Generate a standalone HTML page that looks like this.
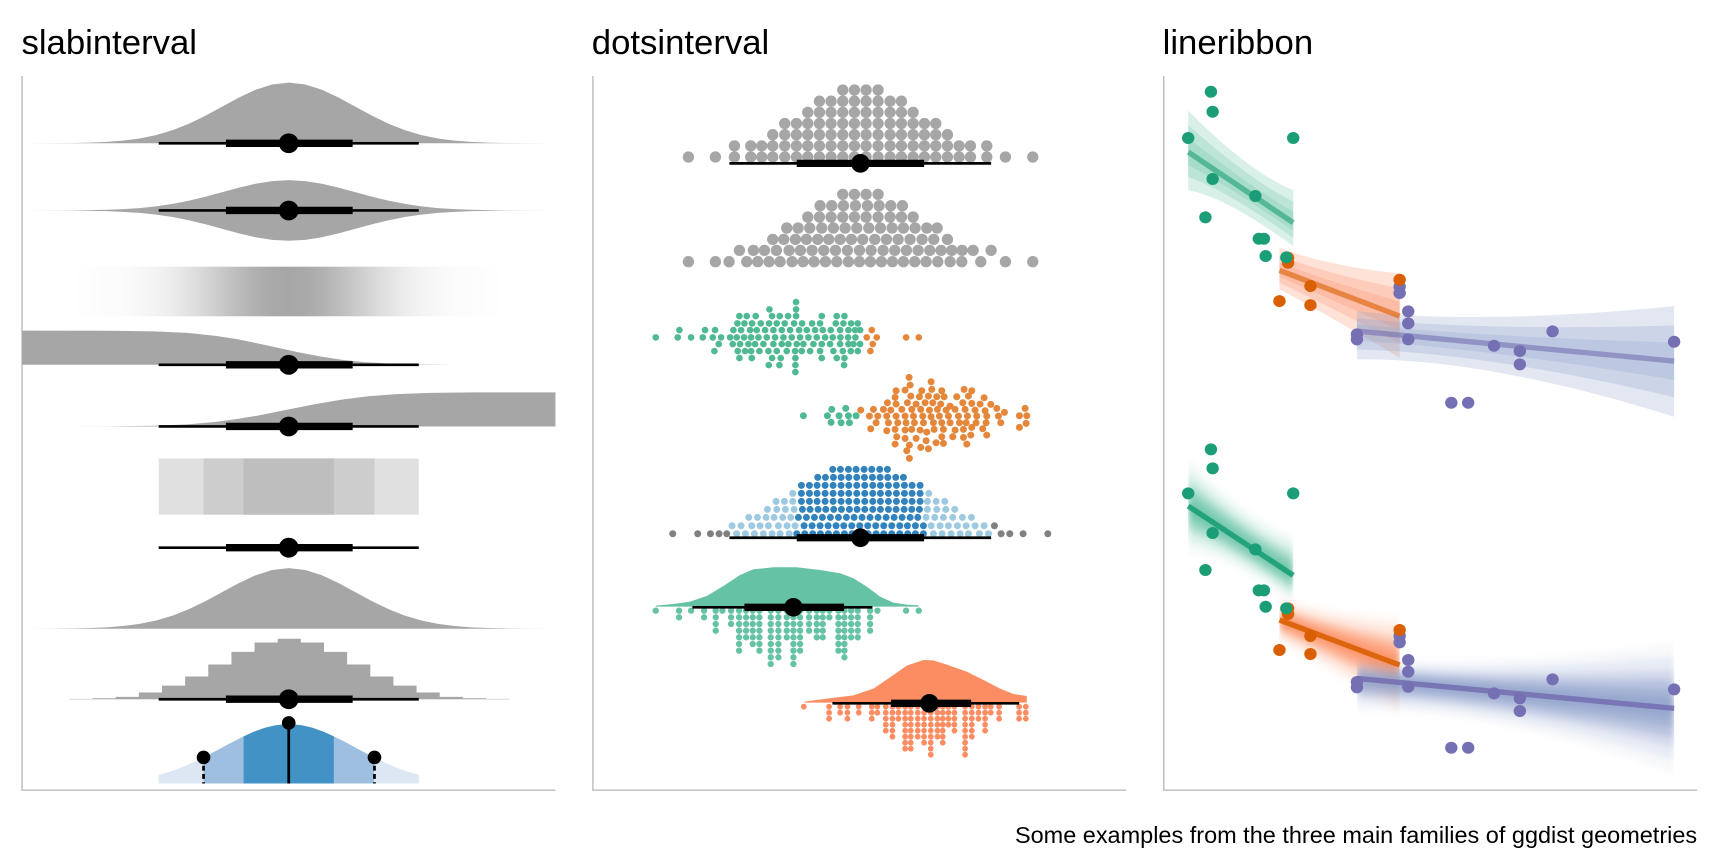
<!DOCTYPE html>
<html><head><meta charset="utf-8"><style>html,body{margin:0;padding:0;background:#fff;}svg{display:block;}</style></head>
<body>
<svg xmlns="http://www.w3.org/2000/svg" width="1728" height="864" viewBox="0 0 1568 784">
<rect width="1568" height="784" fill="#fff"/>
<defs>
<path id="bell" d="M-240.8,0 L-240.8,-0.02 L-210.7,-0.12 L-195.65,-0.28 L-180.6,-0.61 L-165.55,-1.25 L-150.5,-2.41 L-135.45,-4.38 L-120.4,-7.44 L-105.35,-11.9 L-90.3,-17.86 L-75.25,-25.18 L-60.2,-33.36 L-45.15,-41.51 L-30.1,-48.54 L-15.05,-53.31 L0,-55 L15.05,-53.31 L30.1,-48.54 L45.15,-41.51 L60.2,-33.36 L75.25,-25.18 L90.3,-17.86 L105.35,-11.9 L120.4,-7.44 L135.45,-4.38 L150.5,-2.41 L165.55,-1.25 L180.6,-0.61 L195.65,-0.28 L210.7,-0.12 L240.8,-0.02 L240.8,0 Z"/>
<linearGradient id="gr" gradientUnits="userSpaceOnUse" x1="70" y1="0" x2="453" y2="0">
<stop offset="0" stop-color="#a6a6a6" stop-opacity="0.006"/>
<stop offset="0.107" stop-color="#a6a6a6" stop-opacity="0.044"/>
<stop offset="0.186" stop-color="#a6a6a6" stop-opacity="0.135"/>
<stop offset="0.225" stop-color="#a6a6a6" stop-opacity="0.216"/>
<stop offset="0.264" stop-color="#a6a6a6" stop-opacity="0.325"/>
<stop offset="0.303" stop-color="#a6a6a6" stop-opacity="0.458"/>
<stop offset="0.343" stop-color="#a6a6a6" stop-opacity="0.607"/>
<stop offset="0.382" stop-color="#a6a6a6" stop-opacity="0.755"/>
<stop offset="0.421" stop-color="#a6a6a6" stop-opacity="0.882"/>
<stop offset="0.461" stop-color="#a6a6a6" stop-opacity="0.969"/>
<stop offset="0.5" stop-color="#a6a6a6" stop-opacity="1"/>
<stop offset="0.539" stop-color="#a6a6a6" stop-opacity="0.969"/>
<stop offset="0.579" stop-color="#a6a6a6" stop-opacity="0.882"/>
<stop offset="0.618" stop-color="#a6a6a6" stop-opacity="0.755"/>
<stop offset="0.657" stop-color="#a6a6a6" stop-opacity="0.607"/>
<stop offset="0.697" stop-color="#a6a6a6" stop-opacity="0.458"/>
<stop offset="0.736" stop-color="#a6a6a6" stop-opacity="0.325"/>
<stop offset="0.775" stop-color="#a6a6a6" stop-opacity="0.216"/>
<stop offset="0.814" stop-color="#a6a6a6" stop-opacity="0.135"/>
<stop offset="0.893" stop-color="#a6a6a6" stop-opacity="0.044"/>
<stop offset="1" stop-color="#a6a6a6" stop-opacity="0.006"/>
</linearGradient>
<filter id="bl" x="-20%" y="-20%" width="140%" height="140%"><feGaussianBlur stdDeviation="9"/></filter>
<clipPath id="cg" clipPathUnits="userSpaceOnUse"><rect x="70" y="-200" width="305" height="1400"/></clipPath>
<clipPath id="co" clipPathUnits="userSpaceOnUse"><rect x="335" y="-200" width="349" height="1400"/></clipPath>
<clipPath id="cp" clipPathUnits="userSpaceOnUse"><rect x="560" y="-200" width="921" height="1400"/></clipPath>
</defs>

<!-- Titles -->
<g font-family="'Liberation Sans', Arial, sans-serif" fill="#000">
<text x="19.5" y="49" font-size="31.5">slabinterval</text>
<text x="537" y="49" font-size="31.5">dotsinterval</text>
<text x="1055" y="49" font-size="31.5">lineribbon</text>
<text x="1540" y="765" font-size="21.3" text-anchor="end">Some examples from the three main families of ggdist geometries</text>
</g>

<!-- Axes -->
<g fill="none" stroke="#bdbdbd" stroke-width="1.3">
<path d="M20,69 V717 H504"/>
<path d="M538,69 V717 H1022"/>
<path d="M1056,69 V717 H1540"/>
</g>

<!-- ============ PANEL 1: slabinterval ============ -->
<g fill="#a6a6a6">
<use href="#bell" transform="translate(262,130)"/>
<use href="#bell" transform="translate(262,191) scale(1,0.5)"/>
<use href="#bell" transform="translate(262,191) scale(1,-0.5)"/>
<use href="#bell" transform="translate(262,570.5)"/>
<path d="M20,331 L20,300 L100,300.1 L140,300.65 L170,302.1 L195,304.65 L215,307.75 L235,311.8 L252,315.5 L270,319.5 L290,323.4 L310,326.45 L330,328.6 L355,330.04 L380,330.69 L410,330.94 L450,331 Z"/>
<path d="M60,387 L60,386.99 L100,386.89 L140,386.35 L170,385.05 L195,382.88 L215,380.24 L235,376.9 L262,371.5 L285,366.9 L310,362.6 L335,359.5 L360,357.6 L390,356.5 L430,356.1 L504,356 L504,387 Z"/>
<path d="M63,634.5 V634.2 H84 V633.6 H105 V632.4 H126 V628.4 H147 V622.1 H168 V613.9 H189 V603 H210 V591.5 H231 V583 H252 V579.6 H273 V583 H294 V591.5 H315 V603 H336 V613.9 H357 V622.1 H378 V628.4 H399 V632.4 H420 V633.6 H441 V634.2 H462 V634.5 Z"/>
</g>
<g stroke="#c8c8c8" stroke-width="0.4">
<line x1="63" y1="634.5" x2="462" y2="634.5"/>
</g>
<rect x="70" y="242" width="383" height="45" fill="url(#gr)"/>
<rect x="144" y="416" width="236" height="51" fill="#e0e0e0"/>
<rect x="184.7" y="416" width="155.1" height="51" fill="#cdcdcd"/>
<rect x="221" y="416" width="82" height="51" fill="#bebebe"/>

<!-- pointintervals panel 1 -->
<g stroke="#000">
<g stroke-width="2.4">
<line x1="144" y1="130" x2="380" y2="130"/>
<line x1="144" y1="191" x2="380" y2="191"/>
<line x1="144" y1="331" x2="380" y2="331"/>
<line x1="144" y1="387" x2="380" y2="387"/>
<line x1="144" y1="497" x2="380" y2="497"/>
<line x1="144" y1="634.5" x2="380" y2="634.5"/>
</g>
<g stroke-width="6.7">
<line x1="205" y1="130" x2="320" y2="130"/>
<line x1="205" y1="191" x2="320" y2="191"/>
<line x1="205" y1="331" x2="320" y2="331"/>
<line x1="205" y1="387" x2="320" y2="387"/>
<line x1="205" y1="497" x2="320" y2="497"/>
<line x1="205" y1="634.5" x2="320" y2="634.5"/>
</g>
</g>
<g fill="#000">
<circle cx="262" cy="130" r="9"/>
<circle cx="262" cy="191" r="9"/>
<circle cx="262" cy="331" r="9"/>
<circle cx="262" cy="387" r="9"/>
<circle cx="262" cy="497" r="9"/>
<circle cx="262" cy="634.5" r="9"/>
</g>

<!-- blue spike row -->
<path d="M144,711 L144,703.1 L152,700.9 L160,698.15 L172,693.3 L184.7,687.3 L184.7,711 Z" fill="#dde7f3"/>
<path d="M339.3,711 L339.3,687.3 L352,693.3 L364,698.15 L372,700.9 L380,703.1 L380,711 Z" fill="#dde7f3"/>
<path d="M184.7,711 L184.7,687.3 L200,679.2 L210,673.8 L221,668.2 L221,711 Z" fill="#9ebfdf"/>
<path d="M303,711 L303,668.2 L314,673.8 L324,679.2 L339.3,687.3 L339.3,711 Z" fill="#9ebfdf"/>
<path d="M221,711 L221,668.2 L230,664.1 L240,660.5 L250,658.1 L262,657 L274,658.1 L284,660.5 L294,664.1 L303,668.2 L303,711 Z" fill="#4292c6"/>
<line x1="262" y1="656" x2="262" y2="711" stroke="#000" stroke-width="2.5"/>
<line x1="184.7" y1="687.3" x2="184.7" y2="711" stroke="#000" stroke-width="2.5" stroke-dasharray="4.5,3"/>
<line x1="339.8" y1="687.3" x2="339.8" y2="711" stroke="#000" stroke-width="2.5" stroke-dasharray="4.5,3"/>
<circle cx="262" cy="656" r="6.2" fill="#000"/>
<circle cx="184.7" cy="687.3" r="6.2" fill="#000"/>
<circle cx="339.8" cy="687.3" r="6.2" fill="#000"/>

<!-- ============ PANEL 2: dotsinterval ============ -->
<g transform="translate(580.8,69) scale(0.3025)" fill="none" stroke-linecap="round">
<!-- row 1 -->
<path stroke="#a6a6a6" stroke-width="34" d="M145 243h.01M226 243h.01M283 243h.01M283 209.5h.01M332 243h.01M332 209.5h.01M365 243h.01M365 209.5h.01M398 243h.01M398 209.5h.01M398 176h.01M434 243h.01M434 209.5h.01M434 176h.01M434 142.5h.01M469 243h.01M469 209.5h.01M469 176h.01M469 142.5h.01M503 243h.01M503 209.5h.01M503 176h.01M503 142.5h.01M503 109h.01M538 243h.01M538 209.5h.01M538 176h.01M538 142.5h.01M538 109h.01M538 75.5h.01M573 243h.01M573 209.5h.01M573 176h.01M573 142.5h.01M573 109h.01M573 75.5h.01M608 243h.01M608 209.5h.01M608 176h.01M608 142.5h.01M608 109h.01M608 75.5h.01M608 42h.01M643 243h.01M643 209.5h.01M643 176h.01M643 142.5h.01M643 109h.01M643 75.5h.01M643 42h.01M678 243h.01M678 209.5h.01M678 176h.01M678 142.5h.01M678 109h.01M678 75.5h.01M678 42h.01M714 243h.01M714 209.5h.01M714 176h.01M714 142.5h.01M714 109h.01M714 75.5h.01M714 42h.01M750 243h.01M750 209.5h.01M750 176h.01M750 142.5h.01M750 109h.01M750 75.5h.01M784 243h.01M784 209.5h.01M784 176h.01M784 142.5h.01M784 109h.01M784 75.5h.01M819 243h.01M819 209.5h.01M819 176h.01M819 142.5h.01M819 109h.01M853 243h.01M853 209.5h.01M853 176h.01M853 142.5h.01M887 243h.01M887 209.5h.01M887 176h.01M887 142.5h.01M922 243h.01M922 209.5h.01M922 176h.01M957 243h.01M957 209.5h.01M991 243h.01M991 209.5h.01M1040 243h.01M1040 209.5h.01M1096 243h.01M1178 243h.01"/>
<!-- row 2 weave -->
<path stroke="#a6a6a6" stroke-width="34" d="M608 355h.01M643 355h.01M678 355h.01M714 355h.01M540 389h.01M575 389h.01M610 389h.01M646 389h.01M682 389h.01M717 389h.01M752 389h.01M787 389h.01M503 423h.01M538 423h.01M573 423h.01M608 423h.01M643 423h.01M678 423h.01M714 423h.01M750 423h.01M784 423h.01M819 423h.01M440 456h.01M474 456h.01M509 456h.01M545 456h.01M580 456h.01M615 456h.01M650 456h.01M686 456h.01M721 456h.01M756 456h.01M790 456h.01M825 456h.01M860 456h.01M891 456h.01M398 490h.01M431 490h.01M466 490h.01M499 490h.01M533 490h.01M566 490h.01M600 490h.01M634 490h.01M668 490h.01M704 490h.01M739 490h.01M774 490h.01M810 490h.01M846 490h.01M881 490h.01M922 490h.01M298 523h.01M340 523h.01M373 523h.01M409 523h.01M447 523h.01M481 523h.01M516 523h.01M551 523h.01M586 523h.01M622 523h.01M658 523h.01M693 523h.01M729 523h.01M764 523h.01M799 523h.01M834 523h.01M869 523h.01M903 523h.01M935 523h.01M966 523h.01M999 523h.01M1053 523h.01M145 557h.01M226 557h.01M267 557h.01M320 557h.01M353 557h.01M387 557h.01M420 557h.01M456 557h.01M489 557h.01M522 557h.01M556 557h.01M590 557h.01M625 557h.01M658 557h.01M691 557h.01M724 557h.01M757 557h.01M790 557h.01M824 557h.01M858 557h.01M893 557h.01M930 557h.01M965 557h.01M1022 557h.01M1096 557h.01M1178 557h.01"/>
<!-- row 3 swarm -->
<path stroke="#4fb993" stroke-width="20" d="M468 678h.01M388 700h.01M468 700h.01M298 720h.01M320 720h.01M347 720h.01M396 720h.01M419 720h.01M444 720h.01M468 720h.01M545 720h.01M590 720h.01M613 720h.01M292 742h.01M313 742h.01M336 742h.01M362 742h.01M387 742h.01M410 742h.01M434 742h.01M462 742h.01M486 742h.01M516 742h.01M540 742h.01M587 742h.01M610 742h.01M633 742h.01M653 742h.01M118 762h.01M195 762h.01M225 762h.01M280 762h.01M303 762h.01M330 762h.01M350 762h.01M375 762h.01M400 762h.01M425 762h.01M450 762h.01M477 762h.01M500 762h.01M525 762h.01M548 762h.01M572 762h.01M600 762h.01M625 762h.01M645 762h.01M660 762h.01M47 784h.01M113 784h.01M153 784h.01M188 784h.01M218 784h.01M243 784h.01M270 784h.01M290 784h.01M312 784h.01M333 784h.01M355 784h.01M380 784h.01M405 784h.01M430 784h.01M455 784h.01M480 784h.01M505 784h.01M530 784h.01M555 784h.01M578 784h.01M601 784h.01M624 784h.01M646 784h.01M236 804h.01M278 804h.01M300 804h.01M325 804h.01M345 804h.01M370 804h.01M400 804h.01M425 804h.01M445 804h.01M470 804h.01M490 804h.01M520 804h.01M545 804h.01M570 804h.01M600 804h.01M625 804h.01M640 804h.01M660 804h.01M223 825h.01M293 825h.01M315 825h.01M333 825h.01M358 825h.01M385 825h.01M410 825h.01M440 825h.01M465 825h.01M485 825h.01M510 825h.01M540 825h.01M580 825h.01M608 825h.01M632 825h.01M653 825h.01M298 846h.01M335 846h.01M396 846h.01M422 846h.01M466 846h.01M545 846h.01M590 846h.01M613 846h.01M386 867h.01M418 867h.01M466 867h.01M612 867h.01M466 888h.01"/>
<path stroke="#e5873b" stroke-width="20" d="M695 762h.01M680 784h.01M710 784h.01M798 784h.01M836 784h.01M698 804h.01M691 825h.01"/>
</g>
<g transform="translate(580.8,69) scale(0.3025)">
<line x1="268" y1="262" x2="1053" y2="262" stroke="#000" stroke-width="8"/>
<line x1="470" y1="262" x2="852" y2="262" stroke="#000" stroke-width="22"/>
<circle cx="661" cy="262" r="28" fill="#000"/>
</g>

<g transform="translate(580.8,335.8) scale(0.3025)" fill="none" stroke-linecap="round">
<!-- row 4 -->
<path stroke="#4fb993" stroke-width="21" d="M490 137h.01M562 137h.01M575 118h.01M597 137h.01M617 115h.01M625 137h.01M648 137h.01M573 157h.01M603 158h.01M628 158h.01"/>
<path stroke="#e5873b" stroke-width="21" d="M807 22h.01M873 35h.01M810 45h.01M768 62h.01M795 60h.01M845 62h.01M875 58h.01M905 62h.01M972 58h.01M995 62h.01M765 82h.01M812 78h.01M838 80h.01M865 78h.01M890 80h.01M912 80h.01M950 80h.01M985 78h.01M1032 83h.01M742 98h.01M768 102h.01M802 98h.01M828 102h.01M855 98h.01M878 98h.01M902 102h.01M930 108h.01M968 98h.01M995 100h.01M1020 102h.01M1052 103h.01M1070 115h.01M1155 115h.01M662 120h.01M700 118h.01M730 118h.01M752 120h.01M785 118h.01M815 118h.01M842 118h.01M868 120h.01M892 118h.01M918 120h.01M945 118h.01M975 118h.01M1005 120h.01M1035 122h.01M1093 127h.01M688 138h.01M713 138h.01M740 138h.01M768 138h.01M795 138h.01M820 138h.01M848 138h.01M873 140h.01M898 138h.01M925 138h.01M955 138h.01M982 138h.01M1010 138h.01M1040 138h.01M1075 138h.01M1138 137h.01M1160 137h.01M708 158h.01M745 158h.01M773 158h.01M798 158h.01M823 158h.01M850 158h.01M880 158h.01M905 158h.01M930 158h.01M958 158h.01M978 158h.01M1008 158h.01M1038 158h.01M1082 158h.01M1158 160h.01M692 176h.01M740 182h.01M765 178h.01M795 180h.01M815 178h.01M840 180h.01M860 186h.01M882 178h.01M910 178h.01M945 180h.01M970 178h.01M995 172h.01M1028 176h.01M1138 172h.01M770 200h.01M795 205h.01M828 205h.01M858 212h.01M905 200h.01M938 200h.01M970 202h.01M992 195h.01M1040 195h.01M765 222h.01M808 225h.01M842 232h.01M865 236h.01M888 218h.01M910 220h.01M980 222h.01M800 242h.01M808 265h.01"/>
<!-- row 5 -->
<path stroke="#808080" stroke-width="21" d="M98 491h.01M173 491h.01M211 491h.01M237 491h.01M260 491h.01M1083 491h.01M1109 491h.01M1149 491h.01M1223 491h.01M1063 467h.01"/>
<path stroke="#9ecae1" stroke-width="21" d="M290 491h.01M316 491h.01M343 491h.01M370 491h.01M396 491h.01M420 491h.01M447 491h.01M880 491h.01M906 491h.01M933 491h.01M960 491h.01M985 491h.01M1018 491h.01M1045 491h.01M276 467h.01M303 467h.01M335 467h.01M360 467h.01M385 467h.01M415 467h.01M441 467h.01M465 467h.01M873 467h.01M900 467h.01M925 467h.01M952 467h.01M978 467h.01M1005 467h.01M1032 467h.01M326 442h.01M352 442h.01M378 442h.01M402 442h.01M428 442h.01M452 442h.01M858 442h.01M884 442h.01M910 442h.01M938 442h.01M967 442h.01M994 442h.01M382 418h.01M410 418h.01M436 418h.01M462 418h.01M862 418h.01M890 418h.01M917 418h.01M944 418h.01M408 394h.01M433 394h.01M458 394h.01M862 394h.01M888 394h.01M914 394h.01M458 370h.01M866 370h.01"/>
<path stroke="#3182bd" stroke-width="21" d="M470 491h.01M494 491h.01M518 491h.01M541 491h.01M565 491h.01M589 491h.01M613 491h.01M636 491h.01M660 491h.01M684 491h.01M708 491h.01M731 491h.01M755 491h.01M779 491h.01M803 491h.01M826 491h.01M850 491h.01M492 467h.01M516 467h.01M540 467h.01M564 467h.01M588 467h.01M611 467h.01M635 467h.01M659 467h.01M683 467h.01M707 467h.01M731 467h.01M755 467h.01M779 467h.01M802 467h.01M826 467h.01M850 467h.01M475 442h.01M499 442h.01M523 442h.01M547 442h.01M571 442h.01M595 442h.01M619 442h.01M642 442h.01M666 442h.01M690 442h.01M714 442h.01M738 442h.01M762 442h.01M786 442h.01M810 442h.01M833 442h.01M487 418h.01M510 418h.01M534 418h.01M557 418h.01M581 418h.01M604 418h.01M628 418h.01M651 418h.01M674 418h.01M698 418h.01M721 418h.01M745 418h.01M768 418h.01M792 418h.01M815 418h.01M838 418h.01M484 394h.01M508 394h.01M531 394h.01M555 394h.01M579 394h.01M603 394h.01M626 394h.01M650 394h.01M674 394h.01M698 394h.01M721 394h.01M745 394h.01M769 394h.01M793 394h.01M816 394h.01M840 394h.01M484 370h.01M508 370h.01M531 370h.01M555 370h.01M579 370h.01M603 370h.01M626 370h.01M650 370h.01M674 370h.01M698 370h.01M721 370h.01M745 370h.01M769 370h.01M793 370h.01M816 370h.01M840 370h.01M484 346h.01M508 346h.01M531 346h.01M555 346h.01M579 346h.01M603 346h.01M626 346h.01M650 346h.01M674 346h.01M698 346h.01M721 346h.01M745 346h.01M769 346h.01M793 346h.01M816 346h.01M840 346h.01M533 322h.01M556 322h.01M580 322h.01M603 322h.01M626 322h.01M650 322h.01M673 322h.01M697 322h.01M720 322h.01M743 322h.01M767 322h.01M790 322h.01M578 298h.01M601 298h.01M625 298h.01M648 298h.01M672 298h.01M695 298h.01M719 298h.01M742 298h.01"/>
</g>
<g transform="translate(580.8,335.8) scale(0.3025)">
<line x1="268" y1="503" x2="1053" y2="503" stroke="#000" stroke-width="8"/>
<line x1="470" y1="503" x2="852" y2="503" stroke="#000" stroke-width="22"/>
<circle cx="661" cy="503" r="28" fill="#000"/>
</g>

<g transform="translate(580.8,517.2) scale(0.3025)">
<!-- teal slab -->
<path fill="#66c2a5" d="M47,110 L47,107 L100,102 L150,95 L200,78 L250,48 L300,15 L340,-2 L400,-8 L470,-8 L540,0 L600,10 L640,25 L680,50 L720,80 L760,98 L800,104 L835,106 L835,110 Z"/>
<!-- orange slab -->
<path fill="#fc8d62" d="M493,398 L493,395 L560,386 L640,376 L700,356 L750,322 L800,287 L850,270 L880,271 L920,284 L980,305 L1030,330 L1080,356 L1120,372 L1160,378 L1160,398 Z"/>
<g fill="none" stroke-linecap="round">
<path stroke="#66c2a5" stroke-width="19" d="M47 122h.01M117 122h.01M117 142h.01M153 122h.01M192 122h.01M192 142h.01M227 122h.01M227 142h.01M227 162h.01M227 182h.01M247 122h.01M273 122h.01M273 142h.01M273 162h.01M297 122h.01M297 142h.01M297 162h.01M297 182h.01M297 202h.01M297 222h.01M297 242h.01M318 122h.01M318 142h.01M318 162h.01M318 182h.01M318 202h.01M338 122h.01M338 142h.01M338 162h.01M338 182h.01M338 202h.01M338 222h.01M358 122h.01M358 142h.01M358 162h.01M358 182h.01M358 202h.01M358 222h.01M358 242h.01M392 122h.01M392 142h.01M392 162h.01M392 182h.01M392 202h.01M392 222h.01M392 242h.01M392 262h.01M392 282h.01M415 122h.01M415 142h.01M415 162h.01M415 182h.01M415 202h.01M415 222h.01M415 242h.01M415 262h.01M440 122h.01M440 142h.01M440 162h.01M440 182h.01M440 202h.01M460 122h.01M460 142h.01M460 162h.01M460 182h.01M460 202h.01M460 222h.01M460 242h.01M460 262h.01M460 282h.01M480 122h.01M480 142h.01M480 162h.01M480 182h.01M480 202h.01M480 222h.01M480 242h.01M507 122h.01M507 142h.01M507 162h.01M507 182h.01M530 122h.01M530 142h.01M530 162h.01M530 182h.01M530 202h.01M548 122h.01M548 142h.01M548 162h.01M548 182h.01M548 202h.01M568 122h.01M568 142h.01M595 122h.01M595 142h.01M595 162h.01M595 182h.01M595 202h.01M595 222h.01M595 242h.01M613 122h.01M613 142h.01M613 162h.01M613 182h.01M613 202h.01M613 222h.01M613 242h.01M613 262h.01M633 122h.01M633 142h.01M633 162h.01M633 182h.01M633 202h.01M653 122h.01M653 142h.01M653 162h.01M653 182h.01M653 202h.01M690 122h.01M690 142h.01M690 162h.01M690 182h.01M712 122h.01M798 122h.01M836 122h.01"/>
<path stroke="#fc8d62" stroke-width="17.5" d="M491 410h.01M567 410h.01M567 428h.01M567 446h.01M600 410h.01M600 428h.01M622 410h.01M622 428h.01M622 446h.01M656 410h.01M656 428h.01M695 410h.01M695 428h.01M695 446h.01M712 410h.01M712 428h.01M737 410h.01M737 428h.01M737 446h.01M737 464h.01M737 482h.01M757 410h.01M757 428h.01M757 446h.01M757 464h.01M757 482h.01M757 500h.01M775 410h.01M775 428h.01M775 446h.01M795 410h.01M795 428h.01M795 446h.01M795 464h.01M795 482h.01M795 500h.01M795 518h.01M795 536h.01M812 410h.01M812 428h.01M812 446h.01M812 464h.01M812 482h.01M812 500h.01M812 518h.01M812 536h.01M833 410h.01M833 428h.01M833 446h.01M833 464h.01M833 482h.01M833 500h.01M852 410h.01M852 428h.01M852 446h.01M852 464h.01M852 482h.01M852 500h.01M852 518h.01M872 410h.01M872 428h.01M872 446h.01M872 464h.01M872 482h.01M872 500h.01M872 518h.01M872 536h.01M872 554h.01M892 410h.01M892 428h.01M892 446h.01M892 464h.01M892 482h.01M892 500h.01M908 410h.01M908 428h.01M908 446h.01M908 464h.01M908 482h.01M908 500h.01M908 518h.01M925 410h.01M925 428h.01M925 446h.01M925 464h.01M943 410h.01M943 428h.01M943 446h.01M943 464h.01M943 482h.01M975 410h.01M975 428h.01M975 446h.01M975 464h.01M975 482h.01M975 500h.01M975 518h.01M975 536h.01M975 554h.01M995 410h.01M995 428h.01M995 446h.01M995 464h.01M995 482h.01M995 500h.01M1015 410h.01M1015 428h.01M1015 446h.01M1035 410h.01M1035 428h.01M1035 446h.01M1035 464h.01M1035 482h.01M1052 410h.01M1052 428h.01M1077 410h.01M1077 428h.01M1077 446h.01M1137 410h.01M1137 428h.01M1137 446h.01M1157 410h.01M1157 428h.01M1157 446h.01"/>
</g>
<line x1="157" y1="112" x2="697" y2="112" stroke="#000" stroke-width="8"/>
<line x1="313" y1="112" x2="612" y2="112" stroke="#000" stroke-width="22"/>
<circle cx="460" cy="112" r="28" fill="#000"/>
<line x1="577" y1="400" x2="1137" y2="400" stroke="#000" stroke-width="8"/>
<line x1="753" y1="400" x2="993" y2="400" stroke="#000" stroke-width="22"/>
<circle cx="868" cy="400" r="28" fill="#000"/>
</g>

<!-- ============ PANEL 3: lineribbon ============ -->
<g transform="translate(1056.3,69) scale(0.3125,0.3025)">
<g fill="#66c2a5" fill-opacity="0.25">
<path d="M70,103 C150,190 280,305 375,342 L375,510 C300,455 170,360 70,343 Z"/>
<path d="M70,146.8 C150,222.8 280,329.2 375,376.3 L375,485.5 C300,431.5 170,338.1 70,302.8 Z"/>
<path d="M70,185.5 C150,251.8 280,350.5 375,406.7 L375,463.8 C300,410.7 170,318.8 70,267.1 Z"/>
</g>
<g fill="#fc8d62" fill-opacity="0.25">
<path d="M335,515 C420,550 560,580 684,592 L684,845 C560,770 430,690 335,640 Z"/>
<path d="M335,538.8 C420,573.2 560,612 684,636.8 L684,801.3 C560,735.5 430,665.6 335,620 Z"/>
<path d="M335,559.9 C420,593.8 560,640.3 684,676.5 L684,762.5 C560,704.9 430,644 335,602.4 Z"/>
</g>
<g fill="#8da0cb" fill-opacity="0.25">
<path d="M560,705 C800,735 1150,725 1481,690 L1481,1022 C1200,930 850,845 560,850 Z"/>
<path d="M560,726 C800,753.7 1150,759.2 1481,747.8 L1481,963.6 C1200,894.1 850,826.9 560,820.3 Z"/>
<path d="M560,744.6 C800,770.3 1150,789.5 1481,798.9 L1481,911.8 C1200,862.4 850,810.9 560,793.9 Z"/>
</g>
<g stroke-width="16" stroke-opacity="0.6">
<line x1="70" y1="228" x2="375" y2="440" stroke="#1b9e77"/>
<line x1="335" y1="583" x2="684" y2="720" stroke="#d95f02"/>
<line x1="560" y1="765" x2="1481" y2="855" stroke="#7570b3"/>
</g>
<g fill="#7570b3">
<circle cx="684" cy="632" r="18"/><circle cx="684" cy="651" r="18"/><circle cx="709" cy="706" r="18"/><circle cx="709" cy="742" r="18"/><circle cx="560" cy="775" r="18"/><circle cx="560" cy="790" r="18"/><circle cx="709" cy="790" r="18"/><circle cx="958" cy="809" r="18"/><circle cx="1033" cy="825" r="18"/><circle cx="1033" cy="865" r="18"/><circle cx="1128" cy="766" r="18"/><circle cx="1481" cy="797" r="18"/><circle cx="834" cy="980" r="18"/><circle cx="883" cy="980" r="18"/>
</g>
<g fill="#d95f02">
<circle cx="360" cy="545" r="18"/><circle cx="360" cy="560" r="18"/><circle cx="425" cy="630" r="18"/><circle cx="335" cy="675" r="18"/><circle cx="425" cy="687" r="18"/><circle cx="684" cy="611" r="18"/>
</g>
<g fill="#1b9e77">
<circle cx="136" cy="47" r="18"/><circle cx="141" cy="107" r="18"/><circle cx="70" cy="186" r="18"/><circle cx="375" cy="186" r="18"/><circle cx="141" cy="309" r="18"/><circle cx="265" cy="360" r="18"/><circle cx="120" cy="424" r="18"/><circle cx="275" cy="488" r="18"/><circle cx="290" cy="488" r="18"/><circle cx="295" cy="540" r="18"/><circle cx="355" cy="544" r="18"/>
</g>
</g>

<g transform="translate(1056.3,390.2) scale(0.3125,0.3025)">
<g clip-path="url(#cg)"><g fill="#66c2a5" filter="url(#bl)">
<path fill-opacity="0.07" d="M70,85 C150,172.6 280,289.2 375,315 L375,520 C300,464.9 170,371.2 70,366 Z"/>
<path fill-opacity="0.14" d="M70,113.6 C150,194.6 280,305.6 375,339.2 L375,503.2 C300,448.9 170,356.2 70,338.4 Z"/>
<path fill-opacity="0.24" d="M70,142.2 C150,216.6 280,322 375,363.4 L375,486.4 C300,432.9 170,341.2 70,310.8 Z"/>
<path fill-opacity="0.38" d="M70,163.7 C150,233.1 280,334.3 375,381.6 L375,473.8 C300,420.9 170,330 70,290.1 Z"/>
<path fill-opacity="0.48" d="M70,185.1 C150,249.6 280,346.6 375,399.7 L375,461.2 C300,408.9 170,318.7 70,269.4 Z"/>
<path fill-opacity="0.6" d="M70,206.6 C150,266.1 280,358.9 375,417.9 L375,448.6 C300,396.9 170,307.5 70,248.7 Z"/>
</g></g>
<g clip-path="url(#co)"><g fill="#fc8d62" filter="url(#bl)">
<path fill-opacity="0.07" d="M335,498 C420,530.9 560,557 684,557 L684,855 C560,772 430,686.7 335,638 Z"/>
<path fill-opacity="0.14" d="M335,512.4 C420,545.3 560,577 684,586.6 L684,825 C560,749 430,670.7 335,624.4 Z"/>
<path fill-opacity="0.24" d="M335,526.8 C420,559.7 560,597 684,616.2 L684,795 C560,726 430,654.7 335,610.8 Z"/>
<path fill-opacity="0.38" d="M335,537.6 C420,570.5 560,612 684,638.4 L684,772.5 C560,708.8 430,642.7 335,600.6 Z"/>
<path fill-opacity="0.48" d="M335,548.4 C420,581.3 560,627 684,660.6 L684,750 C560,691.5 430,630.7 335,590.4 Z"/>
<path fill-opacity="0.6" d="M335,559.2 C420,592.1 560,642 684,682.8 L684,727.5 C560,674.3 430,618.7 335,580.2 Z"/>
</g></g>
<g clip-path="url(#cp)"><g fill="#8da0cb" filter="url(#bl)">
<path fill-opacity="0.07" d="M560,683 C800,706.5 1150,687.7 1481,640 L1481,1030 C1200,927.5 850,833.3 560,845 Z"/>
<path fill-opacity="0.14" d="M560,695.4 C800,718.9 1150,710.7 1481,679 L1481,991 C1200,903.5 850,821.3 560,825 Z"/>
<path fill-opacity="0.24" d="M560,707.8 C800,731.3 1150,733.7 1481,718 L1481,952 C1200,879.5 850,809.3 560,805 Z"/>
<path fill-opacity="0.38" d="M560,717.1 C800,740.6 1150,751 1481,747.3 L1481,922.8 C1200,861.5 850,800.3 560,790 Z"/>
<path fill-opacity="0.48" d="M560,726.4 C800,749.9 1150,768.2 1481,776.5 L1481,893.5 C1200,843.5 850,791.3 560,775 Z"/>
<path fill-opacity="0.6" d="M560,735.7 C800,759.2 1150,785.5 1481,805.8 L1481,864.3 C1200,825.5 850,782.3 560,760 Z"/>
</g></g>
<g stroke-width="16" stroke-opacity="0.9">
<line x1="70" y1="228" x2="375" y2="436" stroke="#1b9e77"/>
<line x1="335" y1="570" x2="684" y2="705" stroke="#d95f02"/>
<line x1="560" y1="745" x2="1481" y2="835" stroke="#7570b3"/>
</g>
<g fill="#7570b3">
<circle cx="684" cy="618" r="18"/><circle cx="684" cy="637" r="18"/><circle cx="709" cy="690" r="18"/><circle cx="709" cy="725" r="18"/><circle cx="560" cy="756" r="18"/><circle cx="560" cy="772" r="18"/><circle cx="709" cy="770" r="18"/><circle cx="958" cy="790" r="18"/><circle cx="1033" cy="805" r="18"/><circle cx="1033" cy="843" r="18"/><circle cx="1128" cy="748" r="18"/><circle cx="1481" cy="778" r="18"/><circle cx="834" cy="953" r="18"/><circle cx="883" cy="953" r="18"/>
</g>
<g fill="#d95f02">
<circle cx="360" cy="535" r="18"/><circle cx="360" cy="552" r="18"/><circle cx="425" cy="618" r="18"/><circle cx="335" cy="660" r="18"/><circle cx="425" cy="672" r="18"/><circle cx="684" cy="600" r="18"/>
</g>
<g fill="#1b9e77">
<circle cx="136" cy="58" r="18"/><circle cx="141" cy="115" r="18"/><circle cx="70" cy="190" r="18"/><circle cx="375" cy="190" r="18"/><circle cx="141" cy="309" r="18"/><circle cx="265" cy="358" r="18"/><circle cx="120" cy="420" r="18"/><circle cx="275" cy="481" r="18"/><circle cx="290" cy="481" r="18"/><circle cx="295" cy="530" r="18"/><circle cx="355" cy="535" r="18"/>
</g>
</g>
</svg>
</body></html>
